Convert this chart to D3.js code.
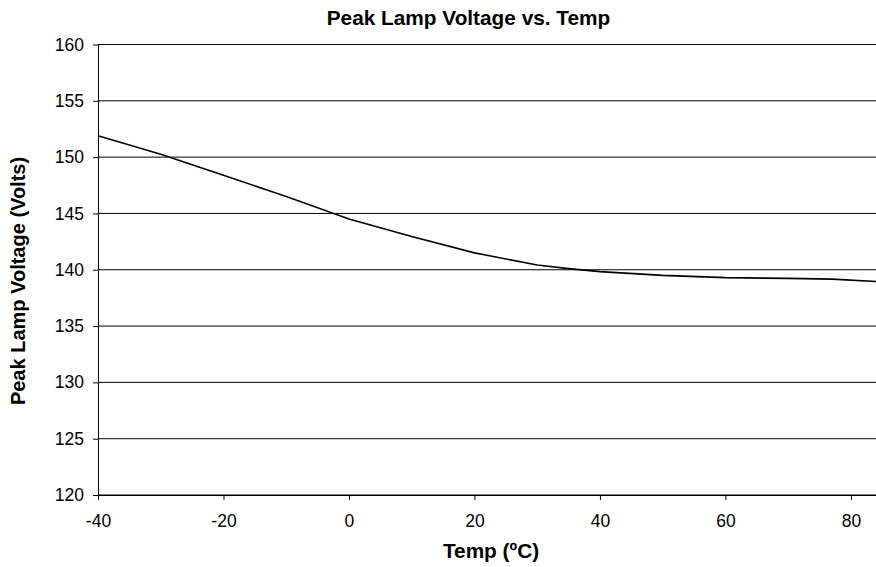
<!DOCTYPE html>
<html><head><meta charset="utf-8">
<script src="https://cdn.jsdelivr.net/npm/d3@7"></script>
<style>
body{margin:0;background:#fff;}
text{font-family:"Liberation Sans",Arial,sans-serif;}
</style></head>
<body><svg id="c" width="876" height="567"></svg>
<script>
const temps = [-40, -30, -20, -10, 0, 10, 20, 30, 35, 40, 50, 60, 70, 77, 84];
const volts = [151.9, 150.25, 148.4, 146.5, 144.5, 142.95, 141.5, 140.42, 140.1, 139.83, 139.5, 139.3, 139.23, 139.17, 138.96];
const xTicks = [-40, -20, 0, 20, 40, 60, 80];
const yTicks = [120, 125, 130, 135, 140, 145, 150, 155, 160];
const title = "Peak Lamp Voltage vs. Temp";
const xTitle = "Temp (ºC)";
const yTitle = "Peak Lamp Voltage (Volts)";

const svg = d3.select("#c");
const L = 98, R = 876, T = 44.5, B = 495;
const x = d3.scaleLinear().domain([-40, 84]).range([L, R]);
const y = d3.scaleLinear().domain([120, 160]).range([B, T]);

// gridlines
svg.append("g").selectAll("line").data(yTicks).join("line")
  .attr("x1", L).attr("x2", R)
  .attr("y1", d => y(d)).attr("y2", d => y(d))
  .attr("stroke", "#000").attr("stroke-width", 1);

// y axis
const ya = svg.append("g").attr("transform", `translate(${L},0)`)
  .call(d3.axisLeft(y).tickValues(yTicks).tickSize(5).tickPadding(9).tickSizeOuter(0).tickFormat(d => String(d)));
ya.select(".domain").attr("stroke", "#000");
ya.selectAll(".tick line").attr("stroke", "#000");
ya.selectAll("text").style("font-size", "17.5px").style("font-family", "'Liberation Sans', Arial, sans-serif").attr("fill", "#000");

// x axis
const xa = svg.append("g").attr("transform", `translate(0,${B})`)
  .call(d3.axisBottom(x).tickValues(xTicks).tickSize(5).tickPadding(15).tickSizeOuter(0).tickFormat(d => String(d)));
xa.select(".domain").attr("stroke", "#000");
xa.selectAll(".tick line").attr("stroke", "#000");
xa.selectAll("text").attr("dy", null).style("font-size", "17.5px").style("font-family", "'Liberation Sans', Arial, sans-serif").attr("fill", "#000")
  .attr("y", 32);

// line
svg.append("path")
  .datum(temps.map((t, i) => [t, volts[i]]))
  .attr("fill", "none").attr("stroke", "#000").attr("stroke-width", 1.6)
  .attr("d", d3.line().x(d => x(d[0])).y(d => y(d[1])));

// titles
svg.append("text").attr("x", 468.5).attr("y", 25).attr("text-anchor", "middle")
  .style("font-size", "20.8px").attr("font-weight", "bold").text(title);
svg.append("text").attr("x", 491).attr("y", 558).attr("text-anchor", "middle")
  .style("font-size", "20.8px").attr("font-weight", "bold").text(xTitle);
svg.append("text").attr("transform", `translate(25,281) rotate(-90)`)
  .attr("text-anchor", "middle").style("font-size", "20px").attr("font-weight", "bold").text(yTitle);
</script></body></html>
